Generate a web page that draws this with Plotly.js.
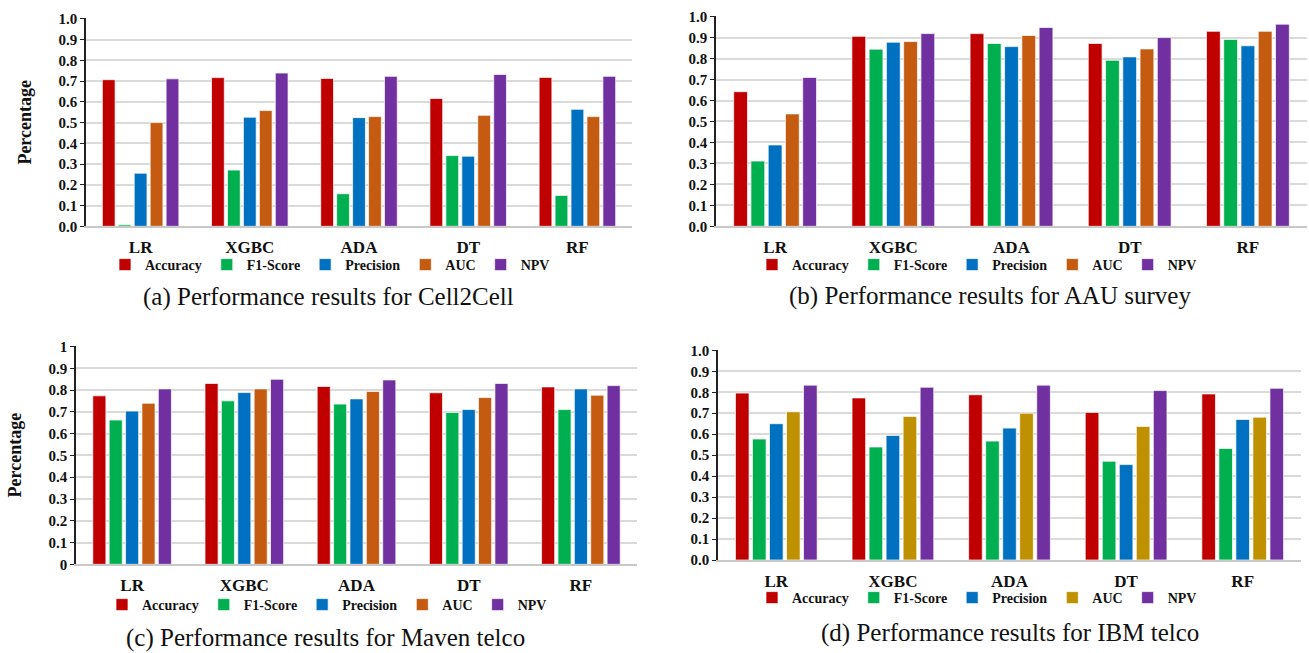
<!DOCTYPE html>
<html>
<head>
<meta charset="utf-8">
<script src="https://cdn.plot.ly/plotly-3.0.1.min.js"></script>
<style>html,body{margin:0;padding:0;background:#fff;}</style>
</head>
<body>
<div id="chart" style="width:1309px;height:653px;"></div>
<script>
// ---- categories / labels ----
const models = ['LR', 'XGBC', 'ADA', 'DT', 'RF'];
const metrics = ['Accuracy', 'F1-Score', 'Precision', 'AUC', 'NPV'];

// ---- (a) Cell2Cell ----
const cell2cellAccuracy  = [0.707, 0.717, 0.713, 0.616, 0.718];
const cell2cellF1        = [0.007, 0.271, 0.157, 0.341, 0.149];
const cell2cellPrecision = [0.256, 0.526, 0.524, 0.338, 0.564];
const cell2cellAUC       = [0.500, 0.558, 0.529, 0.535, 0.529];
const cell2cellNPV       = [0.711, 0.739, 0.723, 0.732, 0.723];

// ---- (b) AAU survey ----
const aauAccuracy  = [0.642, 0.906, 0.919, 0.872, 0.930];
const aauF1        = [0.311, 0.845, 0.872, 0.792, 0.891];
const aauPrecision = [0.388, 0.878, 0.857, 0.808, 0.861];
const aauAUC       = [0.536, 0.881, 0.910, 0.846, 0.930];
const aauNPV       = [0.710, 0.919, 0.948, 0.900, 0.964];

// ---- (c) Maven telco ----
const mavenAccuracy  = [0.774, 0.831, 0.817, 0.788, 0.815];
const mavenF1        = [0.663, 0.751, 0.736, 0.698, 0.711];
const mavenPrecision = [0.704, 0.789, 0.760, 0.711, 0.806];
const mavenAUC       = [0.740, 0.806, 0.794, 0.766, 0.777];
const mavenNPV       = [0.806, 0.850, 0.847, 0.831, 0.821];

// ---- (d) IBM telco ----
const ibmAccuracy  = [0.796, 0.773, 0.788, 0.704, 0.792];
const ibmF1        = [0.577, 0.539, 0.567, 0.471, 0.532];
const ibmPrecision = [0.650, 0.594, 0.629, 0.455, 0.670];
const ibmAUC       = [0.707, 0.685, 0.700, 0.637, 0.681];
const ibmNPV       = [0.834, 0.824, 0.834, 0.808, 0.819];

const captions = [
  '(a) Performance results for Cell2Cell',
  '(b) Performance results for AAU survey',
  '(c) Performance results for Maven telco',
  '(d) Performance results for IBM telco'
];

// ---- styling ----
const colorsABC = ['#C00000', '#00B050', '#0070C0', '#C55A11', '#7030A0'];
const colorsD   = ['#C00000', '#00B050', '#0070C0', '#BF9000', '#7030A0'];
const serif = 'Liberation Serif';
const capFont = {family: serif, size: 25, color: '#111'};

const panels = [
  {series: [cell2cellAccuracy, cell2cellF1, cell2cellPrecision, cell2cellAUC, cell2cellNPV], colors: colorsABC, ax: '', legend: 'legend'},
  {series: [aauAccuracy, aauF1, aauPrecision, aauAUC, aauNPV], colors: colorsABC, ax: '2', legend: 'legend2'},
  {series: [mavenAccuracy, mavenF1, mavenPrecision, mavenAUC, mavenNPV], colors: colorsABC, ax: '3', legend: 'legend3'},
  {series: [ibmAccuracy, ibmF1, ibmPrecision, ibmAUC, ibmNPV], colors: colorsD, ax: '4', legend: 'legend4'}
];

const traces = [];
panels.forEach(p => {
  p.series.forEach((vals, i) => {
    traces.push({
      type: 'bar',
      x: models,
      y: vals,
      name: metrics[i],
      xaxis: 'x' + p.ax,
      yaxis: 'y' + p.ax,
      legend: p.legend,
      marker: {color: p.colors[i], line: {color: 'rgba(255,255,255,0.7)', width: 1}},
      hoverinfo: 'x+y+name'
    });
  });
});

const W = 1309, H = 653;
const px = v => v / W;
const py = v => 1 - v / H;

function xAxis(domain, anchor) {
  return {
    domain: domain, anchor: anchor,
    showline: true, linecolor: '#C8C8C8', linewidth: 1.5,
    showgrid: false, zeroline: false, ticks: '',
    tickfont: {family: serif, size: 17, weight: 'bold', color: '#111'},
    ticklabelstandoff: 5,
    fixedrange: true
  };
}
function yAxis(domain, anchor, fmt, title) {
  const a = {
    domain: domain, anchor: anchor,
    range: [0, 1.003], dtick: 0.1, tick0: 0,
    tickformat: fmt,
    showline: true, linecolor: '#222', linewidth: 1.5,
    ticks: 'outside', ticklen: 4, tickwidth: 1.2, tickcolor: '#222',
    showgrid: true, gridcolor: '#DADADA', gridwidth: 1.5,
    zeroline: false,
    tickfont: {family: serif, size: 15, weight: 'bold', color: '#111'},
    fixedrange: true
  };
  if (title) {
    a.title = {text: title, font: {family: serif, size: 18, weight: 'bold', color: '#111'}, standoff: 22};
  }
  return a;
}
function legendAt(x, y) {
  return {
    orientation: 'h', x: x, y: y, xanchor: 'center', yanchor: 'middle',
    font: {family: serif, size: 14, weight: 'bold', color: '#111'},
    bgcolor: 'rgba(0,0,0,0)', itemwidth: 30, itemclick: false, itemdoubleclick: false,
    tracegroupgap: 0
  };
}

const layout = {
  width: W, height: H,
  margin: {l: 0, r: 0, t: 0, b: 0},
  paper_bgcolor: '#fff', plot_bgcolor: '#fff',
  barmode: 'group', bargap: 0.27, bargroupgap: 0.2,
  showlegend: true,
  font: {family: serif},
  xaxis:  xAxis([px(86), px(632)], 'y'),
  yaxis:  yAxis([py(226.3), py(18.3)], 'x', '.1f', 'Percentage'),
  xaxis2: xAxis([px(716), px(1307)], 'y2'),
  yaxis2: yAxis([py(226.3), py(16)], 'x2', '.1f', null),
  xaxis3: xAxis([px(76), px(637)], 'y3'),
  yaxis3: yAxis([py(564.3), py(346)], 'x3', '', 'Percentage'),
  xaxis4: xAxis([px(718), px(1301)], 'y4'),
  yaxis4: yAxis([py(560), py(349.7)], 'x4', '.1f', null),
  legend:  legendAt(px(330), py(265)),
  legend2: legendAt(px(977), py(265)),
  legend3: legendAt(px(327), py(605)),
  legend4: legendAt(px(977), py(598)),
  annotations: [
    {text: captions[0], x: px(328), y: py(297)},
    {text: captions[1], x: px(990), y: py(296)},
    {text: captions[2], x: px(325), y: py(638)},
    {text: captions[3], x: px(1010), y: py(633)}
  ].map(a => Object.assign({xref: 'paper', yref: 'paper', xanchor: 'center', yanchor: 'middle', showarrow: false, font: capFont}, a))
};

Plotly.newPlot('chart', traces, layout, {displayModeBar: false, responsive: false});
</script>
</body>
</html>
